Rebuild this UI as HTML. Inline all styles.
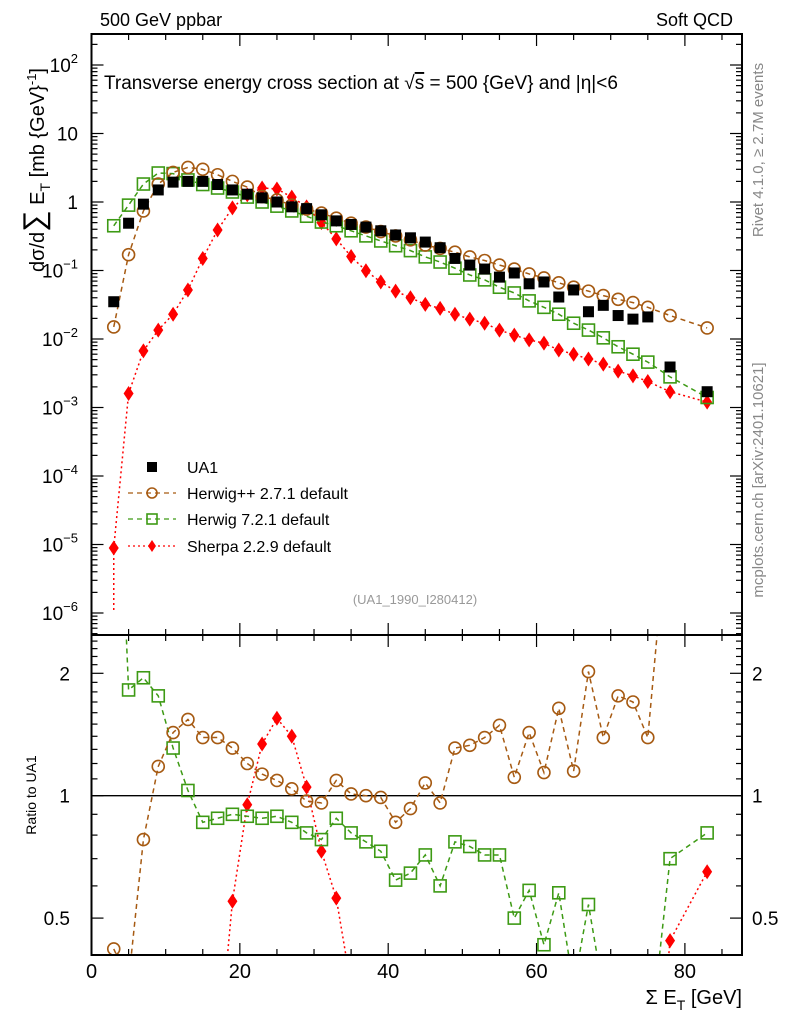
<!DOCTYPE html>
<html><head><meta charset="utf-8"><style>
html,body{margin:0;padding:0;background:#fff;overflow:hidden;width:786px;height:1024px;}
svg{display:block;font-family:"Liberation Sans",sans-serif;}
</style></head><body>
<svg id="chart" width="786" height="1024" viewBox="0 0 786 1024" xmlns="http://www.w3.org/2000/svg">
<g id="plot"></g>
<text x="100" y="26" font-size="18">500 GeV ppbar</text>
<text x="733" y="26" font-size="18" text-anchor="end">Soft QCD</text>
<text x="104" y="89" font-size="19">Transverse energy cross section at √<tspan text-decoration="overline">s</tspan> = 500 {GeV} and |η|&lt;6</text>
<text transform="translate(763,150) rotate(-90)" font-size="15" fill="#888" text-anchor="middle">Rivet 4.1.0, ≥ 2.7M events</text>
<text transform="translate(763,480) rotate(-90)" font-size="15" fill="#888" text-anchor="middle">mcplots.cern.ch [arXiv:2401.10621]</text>
<text x="415" y="604" font-size="13" fill="#999" text-anchor="middle">(UA1_1990_I280412)</text>
<text transform="translate(44,170) rotate(-90)" font-size="20" text-anchor="middle">dσ/d<tspan font-size="30">∑</tspan> E<tspan font-size="14" dy="6">T</tspan><tspan dy="-6"> [mb {GeV}</tspan><tspan font-size="13" dy="-8">-1</tspan><tspan dy="8">]</tspan></text>
<text transform="translate(36,795) rotate(-90)" font-size="14" text-anchor="middle">Ratio to UA1</text>
<text x="742" y="1004" font-size="20" text-anchor="end">Σ E<tspan font-size="14" dy="6">T</tspan><tspan dy="-6"> [GeV]</tspan></text>
</svg>
<script>
const xs = [3,5,7,9,11,13,15,17,19,21,23,25,27,29,31,33,35,37,39,41,43,45,47,49,51,53,55,57,59,61,63,65,67,69,71,73,75,78,83];
const ua1 = [0.035,0.49,0.93,1.5,1.95,2.0,2.0,1.8,1.5,1.3,1.15,1.0,0.85,0.8,0.65,0.53,0.47,0.43,0.38,0.33,0.3,0.26,0.215,0.15,0.12,0.105,0.08,0.092,0.064,0.068,0.041,0.052,0.025,0.031,0.022,0.0195,0.021,0.0039,0.0017];
const hwpp = [0.015,0.17,0.74,1.83,2.7,3.2,3.0,2.5,2.0,1.65,1.2,1.07,0.9,0.79,0.69,0.58,0.49,0.43,0.37,0.32,0.28,0.235,0.21,0.185,0.158,0.14,0.12,0.105,0.089,0.078,0.066,0.057,0.05,0.043,0.038,0.034,0.029,0.022,0.0145];
const hw7 = [0.45,0.9,1.83,2.65,2.6,2.1,1.8,1.6,1.4,1.18,1.0,0.87,0.74,0.62,0.51,0.45,0.38,0.32,0.27,0.23,0.195,0.158,0.133,0.108,0.086,0.073,0.057,0.047,0.036,0.029,0.023,0.017,0.0135,0.0104,0.0077,0.006,0.0046,0.0028,0.0014];
const sherpa = [8.9e-6,0.0016,0.0067,0.0135,0.023,0.052,0.15,0.39,0.82,1.27,1.6,1.55,1.18,0.85,0.5,0.29,0.16,0.099,0.068,0.05,0.04,0.032,0.028,0.023,0.0195,0.017,0.0135,0.0114,0.0097,0.0087,0.0069,0.006,0.0051,0.0043,0.0034,0.0029,0.0024,0.0017,0.0012];
const sherpaErrLow = [1.0e-6];
const ratioHwpp = [0.42,0.35,0.78,1.18,1.43,1.54,1.39,1.39,1.31,1.2,1.13,1.09,1.04,0.97,0.96,1.09,1.01,1.0,0.99,0.86,0.93,1.075,0.96,1.31,1.33,1.39,1.49,1.11,1.43,1.14,1.64,1.15,2.02,1.39,1.76,1.7,1.39,5.6,8.5];
const ratioHw7 = [13,1.82,1.95,1.76,1.31,1.03,0.86,0.88,0.9,0.89,0.88,0.89,0.86,0.81,0.78,0.88,0.81,0.77,0.73,0.62,0.645,0.715,0.6,0.77,0.75,0.715,0.715,0.5,0.585,0.43,0.577,0.34,0.54,0.33,0.35,0.31,0.22,0.7,0.81];
const ratioSherpa = [0.0003,0.003,0.007,0.009,0.012,0.026,0.075,0.22,0.55,0.95,1.34,1.55,1.4,1.05,0.73,0.56,0.34,0.23,0.18,0.15,0.14,0.14,0.13,0.15,0.16,0.16,0.17,0.12,0.15,0.13,0.17,0.12,0.2,0.14,0.15,0.15,0.11,0.44,0.65];
const xTicks = [0,20,40,60,80];
const yDecades = [-6,-5,-4,-3,-2,-1,0,1,2];
const ratioTicks = [0.5,1,2];

const NS='http://www.w3.org/2000/svg';
const L=91.5,R=742,T=34,MB=635,RB=955;
const X=v=>L+(v)*(R-L)/87.7;
const Y=v=>202-68.5*Math.log10(v);
const RY=v=>795.7-122.4*Math.log2(v);
const g=document.getElementById('plot');
function el(tag,attrs,parent){const e=document.createElementNS(NS,tag);for(const k in attrs)e.setAttribute(k,attrs[k]);(parent||g).appendChild(e);return e;}

const defs=el('defs',{});
const c1=el('clipPath',{id:'cm'},defs);el('rect',{x:L,y:T,width:R-L,height:MB-T},c1);
const c2=el('clipPath',{id:'cr'},defs);el('rect',{x:L,y:MB,width:R-L,height:RB-MB},c2);

const ticks=el('g',{stroke:'#000','stroke-width':1.2});


for(let v=0;v<=87;v+=5){const x=X(v);const big=v%20===0;const len=big?12:6;
 el('line',{x1:x,x2:x,y1:T,y2:T+len},ticks);el('line',{x1:x,x2:x,y1:MB,y2:MB-len},ticks);
 el('line',{x1:x,x2:x,y1:MB,y2:MB+len},ticks);el('line',{x1:x,x2:x,y1:RB,y2:RB-len},ticks);}
for(let d=-7;d<=2;d++){for(let m=1;m<10;m++){const v=m*Math.pow(10,d);const y=Y(v);if(y<T||y>MB)continue;const len=m===1?12:6;
 el('line',{x1:L,x2:L+len,y1:y,y2:y},ticks);el('line',{x1:R,x2:R-len,y1:y,y2:y},ticks);}}
for(let v=0.4;v<=2.5;v+=0.1){const y=RY(v);if(y<MB||y>RB)continue;const big=[0.5,1,2].some(t=>Math.abs(t-v)<1e-6);const len=big?12:6;
 el('line',{x1:L,x2:L+len,y1:y,y2:y},ticks);el('line',{x1:R,x2:R-len,y1:y,y2:y},ticks);}

xTicks.forEach(v=>{const t=el('text',{x:X(v),y:978,'font-size':20,'text-anchor':'middle'});t.textContent=v;
 
 });
yDecades.forEach(d=>{const y=Y(Math.pow(10,d))+7;const t=el('text',{x:78,y:y,'font-size':19,'text-anchor':'end'});
 if(d===0)t.textContent='1';else if(d===1)t.textContent='10';else{t.textContent='10';const s=el('tspan',{'font-size':13,dy:-9},t);s.textContent=String(d).replace('-','−');}
 
 });
ratioTicks.forEach(v=>{[[70,'end'],[752,'start']].forEach(([x,a])=>{const t=el('text',{x:x,y:RY(v)+7,'font-size':19,'text-anchor':a});t.textContent=String(v);
 
 });});

const rl=el('line',{x1:L,x2:R,y1:RY(1),y2:RY(1),stroke:'#000','stroke-width':1.3});



function marker(parent,type,x,y,color,s){
 if(type==='sq')return el('rect',{x:x-s,y:y-s,width:2*s,height:2*s,fill:'#000'},parent);
 if(type==='circ')return el('circle',{cx:x,cy:y,r:s,fill:'none',stroke:color,'stroke-width':1.6},parent);
 if(type==='osq')return el('rect',{x:x-s,y:y-s,width:2*s,height:2*s,fill:'none',stroke:color,'stroke-width':1.6},parent);
 return el('path',{d:`M${x},${y-s*1.5}L${x+s},${y}L${x},${y+s*1.5}L${x-s},${y}Z`,fill:color},parent);}

function series(name,vals,yf,clip,color,dash,type,line){
 const grp=el('g',{'clip-path':`url(#${clip})`});
 
 
 if(line){const d=vals.map((v,i)=>(i?'L':'M')+X(xs[i])+','+yf(v)).join('');
  el('path',{d:d,fill:'none',stroke:color,'stroke-width':1.5,'stroke-dasharray':dash},grp);}
 vals.forEach((v,i)=>{const m=marker(grp,type,X(xs[i]),yf(v),color,type==='sq'?5.5:type==='dia'?5:6);
  
  });
 return grp;}

const BR='#a65a12',GR='#3d9a14',RD='#ff0000';
const sg=series('sherpa-series',sherpa,Y,'cm',RD,'2,3','dia',true);
const eb=el('line',{x1:X(xs[0]),x2:X(xs[0]),y1:Y(sherpa[0]),y2:Y(sherpaErrLow[0]),stroke:RD,'stroke-width':1.5,'stroke-dasharray':'2,3'},sg);


series('herwig7-series',hw7,Y,'cm',GR,'5,4','osq',true);
series('herwigpp-series',hwpp,Y,'cm',BR,'5,4','circ',true);
series('ua1-series',ua1,Y,'cm','#000','','sq',false);
series('sherpa-ratio',ratioSherpa,RY,'cr',RD,'2,3','dia',true);
series('herwig7-ratio',ratioHw7,RY,'cr',GR,'5,4','osq',true);
series('herwigpp-ratio',ratioHwpp,RY,'cr',BR,'5,4','circ',true);

const f=el('rect',{x:L,y:T,width:R-L,height:RB-T,fill:'none',stroke:'#000','stroke-width':2});


el('line',{x1:L,x2:R,y1:MB,y2:MB,stroke:'#000','stroke-width':2});

const lg=el('g',{});


const entries=[['UA1','#000','','sq',467],['Herwig++ 2.7.1 default',BR,'5,4','circ',493],['Herwig 7.2.1 default',GR,'5,4','osq',519],['Sherpa 2.2.9 default',RD,'2,3','dia',546]];
entries.forEach(([lab,c,d,t,y])=>{const e=el('g',{},lg);
 
 
 if(t!=='sq')el('line',{x1:128,x2:176,y1:y,y2:y,stroke:c,'stroke-width':1.3,'stroke-dasharray':d},e);
 marker(e,t,152,y,c,t==='dia'?4:5);
 const tx=el('text',{x:187,y:y+6,'font-size':16},e);tx.textContent=lab;});
</script>
</body></html>
